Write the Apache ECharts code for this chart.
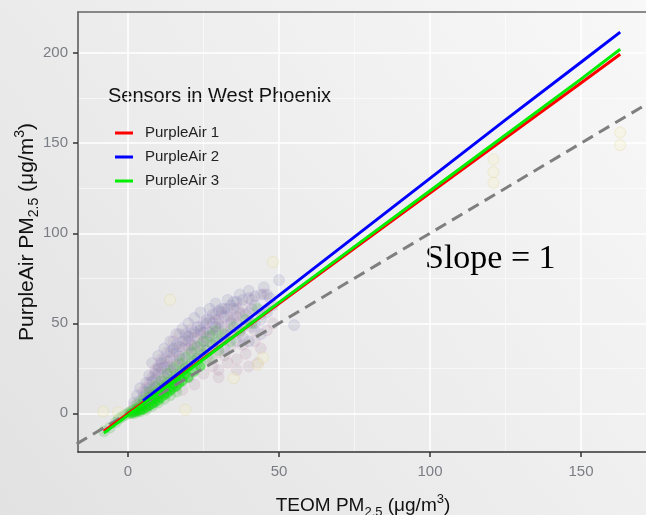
<!DOCTYPE html>
<html><head><meta charset="utf-8">
<script src="https://cdn.jsdelivr.net/npm/echarts@6/dist/echarts.min.js"></script>
<style>html,body{margin:0;padding:0;background:#eee;}#c{width:646px;height:515px;}</style>
</head><body><div id="c"></div>
<script>
// ---- data ----
const xTicks = [0, 50, 100, 150];
const yTicks = [0, 50, 100, 150, 200];
const xMinor = [25, 75, 125];
const yMinor = [25, 75, 125, 175];
const sensorNames = ['PurpleAir 1', 'PurpleAir 2', 'PurpleAir 3'];
const legendTitle = 'Sensors in West Phoenix';
const slopeLabel = 'Slope = 1';

const fitX1 = [-8, 0, 25, 50, 75, 100, 125, 150, 163];
const fitY1 = [-10, -0.2, 30.4, 61, 91.7, 122.3, 152.9, 183.5, 199.4];
const fitX2 = [5, 25, 50, 75, 100, 125, 150, 163];
const fitY2 = [7, 33, 65.5, 98, 130.5, 163, 195, 211.7];
const fitX3 = [-8, 0, 25, 50, 75, 100, 125, 150, 163];
const fitY3 = [-11, -1, 30, 61.6, 92.6, 123.6, 154.6, 185.6, 202.2];
const identityX = [-17, 173];

const pointsSensor1 = [[1,1],[2,4],[3,2],[4,7],[5,5],[5,12],[6,3],[7,10],[7,17],[8,6],[9,14],[9,24],[10,8],[11,19],[11,30],[12,12],[13,22],[13,34],[14,15],[15,27],[15,40],[16,18],[17,30],[17,44],[18,13],[19,25],[19,38],[20,20],[21,33],[21,47],[22,16],[23,28],[23,42],[24,35],[25,22],[25,50],[26,31],[27,45],[28,26],[28,38],[29,55],[30,20],[30,34],[31,48],[32,42],[33,28],[33,58],[34,37],[35,52],[36,24],[37,45],[38,60],[39,33],[40,50],[41,63],[42,40],[43,28],[44,55],[45,66],[46,46],[12,26],[16,34],[20,40],[24,44],[28,50],[32,54],[36,58],[18,36],[22,36],[26,42],[30,46],[34,50],[38,54],[14,30],[10,22],[6,14],[8,20],[10,26],[12,18],[14,26],[16,22],[18,28],[20,36],[22,42],[24,38],[26,46],[28,30],[30,52],[32,32],[34,46],[36,54],[38,38],[40,56],[42,46],[44,36],[46,58],[48,50],[30,24],[36,30],[40,26]];
const pointsSensor2 = [[2,6],[3,10],[4,14],[5,9],[6,17],[7,21],[8,13],[8,28],[9,19],[10,32],[10,16],[11,25],[12,36],[12,20],[13,29],[14,40],[14,24],[15,33],[16,44],[16,27],[17,37],[18,47],[18,30],[19,41],[20,50],[20,33],[21,44],[22,38],[22,53],[23,30],[24,46],[24,56],[25,40],[26,50],[26,35],[27,58],[28,44],[29,52],[29,61],[30,40],[31,56],[32,48],[33,63],[34,44],[35,58],[36,50],[37,66],[38,42],[39,55],[40,68],[41,48],[42,60],[44,52],[45,70],[47,64],[50,74],[55,49],[11,28],[15,36],[19,44],[23,48],[27,52],[31,58],[35,62],[13,24],[17,32],[21,38],[25,45],[29,48],[33,54],[37,56],[41,58],[9,22],[7,14],[6,12],[8,18],[10,25],[12,30],[14,34],[16,38],[18,40],[20,43],[22,45],[24,48],[26,52],[28,55],[30,57],[32,58],[34,60],[36,62],[38,63],[40,64],[42,65],[44,66],[46,66],[22,26],[24,32],[26,40],[28,46],[30,50],[32,36],[34,52],[36,40],[38,48],[40,40],[42,50],[44,44],[46,56],[48,60]];
const pointsSensor3 = [[-8,-10],[-6,-8],[-4,-5],[-3,-3],[-2,-2],[-1,-1],[0,0],[1,1],[1,0],[2,2],[2,1],[3,3],[3,1],[4,4],[4,2],[5,6],[5,3],[6,7],[6,4],[7,9],[7,5],[8,10],[8,6],[9,11],[9,8],[10,13],[10,9],[11,14],[12,15],[12,11],[13,17],[14,18],[14,13],[15,19],[16,21],[16,15],[17,22],[18,24],[18,18],[19,25],[20,26],[20,20],[21,28],[22,29],[23,31],[24,27],[25,33],[26,35],[27,30],[28,38],[29,40],[30,35],[31,42],[32,44],[34,40],[35,48],[37,46],[39,52],[41,50],[43,58],[3,5],[5,8],[7,12],[9,15],[11,18],[13,22],[15,25],[17,28],[19,31],[21,34],[23,37],[25,40],[27,43],[29,46],[2,0],[4,1],[6,2],[8,4],[10,6],[12,8],[14,10],[16,12]];
const pointsSensor3Core = [[1,0],[2,0.5],[3,1],[4,1.5],[5,2],[6,3],[7,4],[8,5],[9,6],[10,7],[11,8.5],[12,10],[13,11],[14,12.5],[15,14],[16,15],[17,16.5],[18,18],[20,20],[22,23],[24,26],[3,2.5],[5,4.5],[7,6.5],[9,8.5],[11,11],[13,13.5],[15,16],[17,19],[19,21.5]];
const pointsOutliers = [[-8.2,1],[-3.3,0.6],[19,2],[35,19.5],[43,27],[44.7,31],[121,141],[121,134],[121,128],[163,156],[163,149],[48,84],[13.9,63]];

// ---- layout constants ----
const X_MIN = -16.56, X_MAX = 172.2, Y_MIN = -21.5, Y_MAX = 222.9;

const zip = (xs, ys) => xs.map((x, i) => [x, ys[i]]);
const FONT = 'Liberation Sans, Arial, sans-serif';

const nameRich = {
  a: { fontSize: 19, fontFamily: FONT, color: '#111', lineHeight: 26, verticalAlign: 'middle' },
  s: { fontSize: 13, fontFamily: FONT, color: '#111', lineHeight: 13, verticalAlign: 'bottom' },
  p: { fontSize: 13, fontFamily: FONT, color: '#111', lineHeight: 13, verticalAlign: 'top' }
};
const nameRichY = {
  a: { fontSize: 21, fontFamily: FONT, color: '#111', lineHeight: 28, verticalAlign: 'middle' },
  s: { fontSize: 14, fontFamily: FONT, color: '#111', lineHeight: 14, verticalAlign: 'bottom' },
  p: { fontSize: 14, fontFamily: FONT, color: '#111', lineHeight: 14, verticalAlign: 'top' }
};

const chart = echarts.init(document.getElementById('c'), null, { renderer: 'canvas' });

const scatterBase = (name, data, color, border, size) => ({
  name, type: 'scatter', data, symbolSize: size || 11,
  itemStyle: { color, borderColor: border, borderWidth: 1 },
  silent: true, z: 1
});

chart.setOption({
  animation: false,
  backgroundColor: {
    type: 'linear', x: 0, y: 1, x2: 1, y2: 0,
    colorStops: [{ offset: 0, color: '#e2e2e2' }, { offset: 1, color: '#f8f8f8' }]
  },
  grid: { left: 78, right: -2, top: 12, bottom: 63, containLabel: false, outerBoundsMode: 'none' },
  legend: {
    data: sensorNames, orient: 'vertical', left: 110, top: 119,
    icon: 'rect', itemWidth: 18, itemHeight: 3, itemGap: 6,
    textStyle: { fontSize: 15, color: '#222', fontFamily: FONT, lineHeight: 18, padding: [0, 0, 0, 7] }
  },
  graphic: [
    { type: 'text', left: 108, top: 86, style: { text: legendTitle, font: '20px ' + FONT, fill: '#111' } },
    { type: 'text', left: 425, top: 242, style: { text: slopeLabel, font: '34px "Liberation Serif", "Times New Roman", serif', fill: '#000' } }
  ],
  xAxis: [
    {
      type: 'value', position: 'bottom', min: X_MIN, max: X_MAX,
      axisLine: { show: true, onZero: false, lineStyle: { color: '#333', width: 1.5 } },
      axisTick: { show: true, length: 5, customValues: xTicks, lineStyle: { color: '#333', width: 1.5 } },
      axisLabel: { customValues: xTicks, color: '#7b7d84', fontSize: 15, fontFamily: FONT, margin: 12 },
      splitLine: { show: true, lineStyle: { color: '#ffffff', width: 1.5 } },
      name: '{a|TEOM PM}{s|2.5}{a| (μg/m}{p|3}{a|)}',
      nameLocation: 'middle', nameGap: 41, nameMoveOverlap: false,
      nameTextStyle: { rich: nameRich }
    },
    {
      type: 'value', position: 'top', min: X_MIN, max: X_MAX,
      axisLine: { show: true, onZero: false, lineStyle: { color: '#666', width: 1.5 } },
      axisTick: { show: false, customValues: xMinor },
      axisLabel: { show: false, customValues: xMinor },
      splitLine: { show: true, lineStyle: { color: 'rgba(255,255,255,0.55)', width: 1 } }
    }
  ],
  yAxis: [
    {
      type: 'value', position: 'left', min: Y_MIN, max: Y_MAX,
      axisLine: { show: true, onZero: false, lineStyle: { color: '#555', width: 1.5 } },
      axisTick: { show: true, length: 5, customValues: yTicks, lineStyle: { color: '#333', width: 1.5 } },
      axisLabel: { customValues: yTicks, color: '#7b7d84', fontSize: 15, fontFamily: FONT, margin: 10 },
      splitLine: { show: true, lineStyle: { color: '#ffffff', width: 1.5 } },
      name: '{a|PurpleAir PM}{s|2.5}{a| (μg/m}{p|3}{a|)}',
      nameLocation: 'middle', nameGap: 37, nameRotate: 90, nameMoveOverlap: false,
      nameTextStyle: { rich: nameRichY }
    },
    {
      type: 'value', position: 'right', min: Y_MIN, max: Y_MAX,
      axisLine: { show: false, onZero: false },
      axisTick: { show: false, customValues: yMinor },
      axisLabel: { show: false, customValues: yMinor },
      splitLine: { show: true, lineStyle: { color: 'rgba(255,255,255,0.55)', width: 1 } }
    }
  ],
  series: [
    scatterBase('pts1', pointsSensor1, 'rgba(150,115,145,0.17)', 'rgba(225,175,205,0.3)'),
    scatterBase('pts2', pointsSensor2, 'rgba(105,100,150,0.18)', 'rgba(175,165,225,0.3)'),
    scatterBase('pts3', pointsSensor3, 'rgba(60,170,60,0.26)', 'rgba(140,215,140,0.3)'),
    scatterBase('pts3core', pointsSensor3Core, 'rgba(0,230,0,0.5)', 'rgba(0,230,0,0.4)', 9),
    scatterBase('ptsOut', pointsOutliers, 'rgba(245,240,190,0.35)', 'rgba(220,210,150,0.4)'),
    {
      name: 'identity', type: 'line', data: identityX.map(v => [v, v]), symbol: 'none',
      lineStyle: { color: '#7f7f7f', width: 3, type: [12, 7] }, silent: true, z: 3
    },
    { name: sensorNames[0], type: 'line', data: zip(fitX1, fitY1), symbol: 'none', color: '#ff0000', lineStyle: { width: 3 }, z: 4 },
    { name: sensorNames[1], type: 'line', data: zip(fitX2, fitY2), symbol: 'none', color: '#0000ff', lineStyle: { width: 3 }, z: 4 },
    { name: sensorNames[2], type: 'line', data: zip(fitX3, fitY3), symbol: 'none', color: '#00ee00', lineStyle: { width: 3 }, z: 4 }
  ]
});
</script>
</body></html>
